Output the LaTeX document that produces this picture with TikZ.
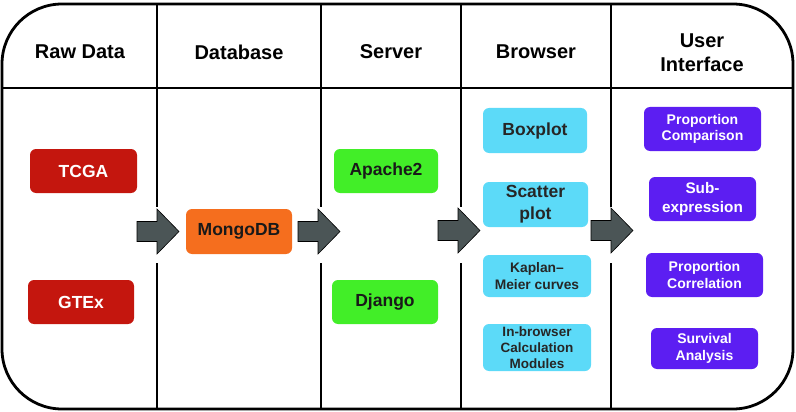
\documentclass[tikz,border=0pt]{standalone}
\usepackage{fontspec}
\setmainfont{Liberation Sans}
\definecolor{rawred}{RGB}{196,22,14}
\definecolor{dborange}{RGB}{245,110,30}
\definecolor{srvgreen}{RGB}{66,238,40}
\definecolor{brblue}{RGB}{92,218,248}
\definecolor{uipurple}{RGB}{92,30,242}
\definecolor{arrowgray}{RGB}{75,85,86}
\newcommand{\fsz}[2]{\fontsize{#1}{#2}\selectfont}
\begin{document}
\begin{tikzpicture}[x=1pt,y=-1pt,
  box/.style={rounded corners=6pt, inner sep=0pt, align=center, font=\bfseries},
  rawbox/.style={box, fill=rawred, text=white, font=\bfseries\fsz{17.5}{22}},
  dbbox/.style={box, fill=dborange, text=black!90, font=\bfseries\fsz{17.5}{22}},
  srvbox/.style={box, fill=srvgreen, text=black!90, font=\bfseries\fsz{17.5}{22}},
  brbox/.style={box, fill=brblue, text=black!85},
  uibox/.style={box, fill=uipurple, text=white},
  head/.style={font=\bfseries\fsz{20}{24}, align=center, inner sep=0pt},
  frame/.style={line width=2.8pt, black},
  divider/.style={line width=2.4pt, black},
  blockarrow/.style={fill=arrowgray, draw=black, line width=0.6pt, line join=miter}
]
\useasboundingbox (0,0) rectangle (796,412);
% outer frame
\draw[frame, rounded corners=60pt] (2,4) rectangle (793,409);
% header line
\draw[divider] (2,88) -- (793,88);
% column dividers (broken where arrows pass)
\foreach \x in {157,321,461,611}{
  \draw[divider] (\x,4) -- (\x,207);
  \draw[divider] (\x,263) -- (\x,409);
}
% headers
\node[head] (h1) at (80,52) {Raw Data};
\node[head] (h2) at (239,52) {Database};
\node[head] (h3) at (391,52) {Server};
\node[head] (h4) at (536,52) {Browser};
\node[head] (h5) at (702,53) {User\\Interface};
% raw data
\node[rawbox, minimum width=107pt, minimum height=44pt] (tcga) at (83.5,171) {TCGA};
\node[rawbox, minimum width=106pt, minimum height=44pt] (gtex) at (81,302) {GTEx};
% database
\node[dbbox, minimum width=106pt, minimum height=45pt] (mongo) at (239,231.5) {MongoDB};
% server
\node[srvbox, minimum width=104pt, minimum height=44pt] (apache) at (386,171) {Apache2};
\node[srvbox, minimum width=106pt, minimum height=44pt] (django) at (385,302) {Django};
% browser
\node[brbox, font=\bfseries\fsz{17.5}{22}, minimum width=104pt, minimum height=45pt] (boxplot) at (535,130.5) {Boxplot};
\node[brbox, font=\bfseries\fsz{17.5}{22}, minimum width=105pt, minimum height=45pt] (scatter) at (535.5,204.5) {Scatter\\plot};
\node[brbox, font=\bfseries\fsz{13.8}{16.5}, minimum width=108pt, minimum height=42pt] (km) at (537,276) {Kaplan--\\Meier curves};
\node[brbox, font=\bfseries\fsz{13.5}{16}, minimum width=108pt, minimum height=47pt] (calc) at (537,347.5) {In-browser\\Calculation\\Modules};
% user interface
\node[uibox, font=\bfseries\fsz{14}{16.5}, minimum width=117pt, minimum height=44pt] (pcomp) at (702.5,129) {Proportion\\Comparison};
\node[uibox, font=\bfseries\fsz{15.3}{19}, minimum width=107pt, minimum height=44pt] (subexp) at (702.5,199) {Sub-\\expression};
\node[uibox, font=\bfseries\fsz{14}{16.5}, minimum width=117pt, minimum height=44pt] (pcorr) at (704.5,275) {Proportion\\Correlation};
\node[uibox, font=\bfseries\fsz{14}{17}, minimum width=107pt, minimum height=41pt] (surv) at (704.5,348.5) {Survival\\Analysis};
% block arrows
\foreach \x/\c in {137/231.5, 298/231.5, 438/230.5, 591/230.5}{
  \draw[blockarrow] (\x,\c-10) -- (\x+20,\c-10) -- (\x+20,\c-22.5) -- (\x+42,\c)
    -- (\x+20,\c+22.5) -- (\x+20,\c+10) -- (\x,\c+10) -- cycle;
}
\end{tikzpicture}
\end{document}
